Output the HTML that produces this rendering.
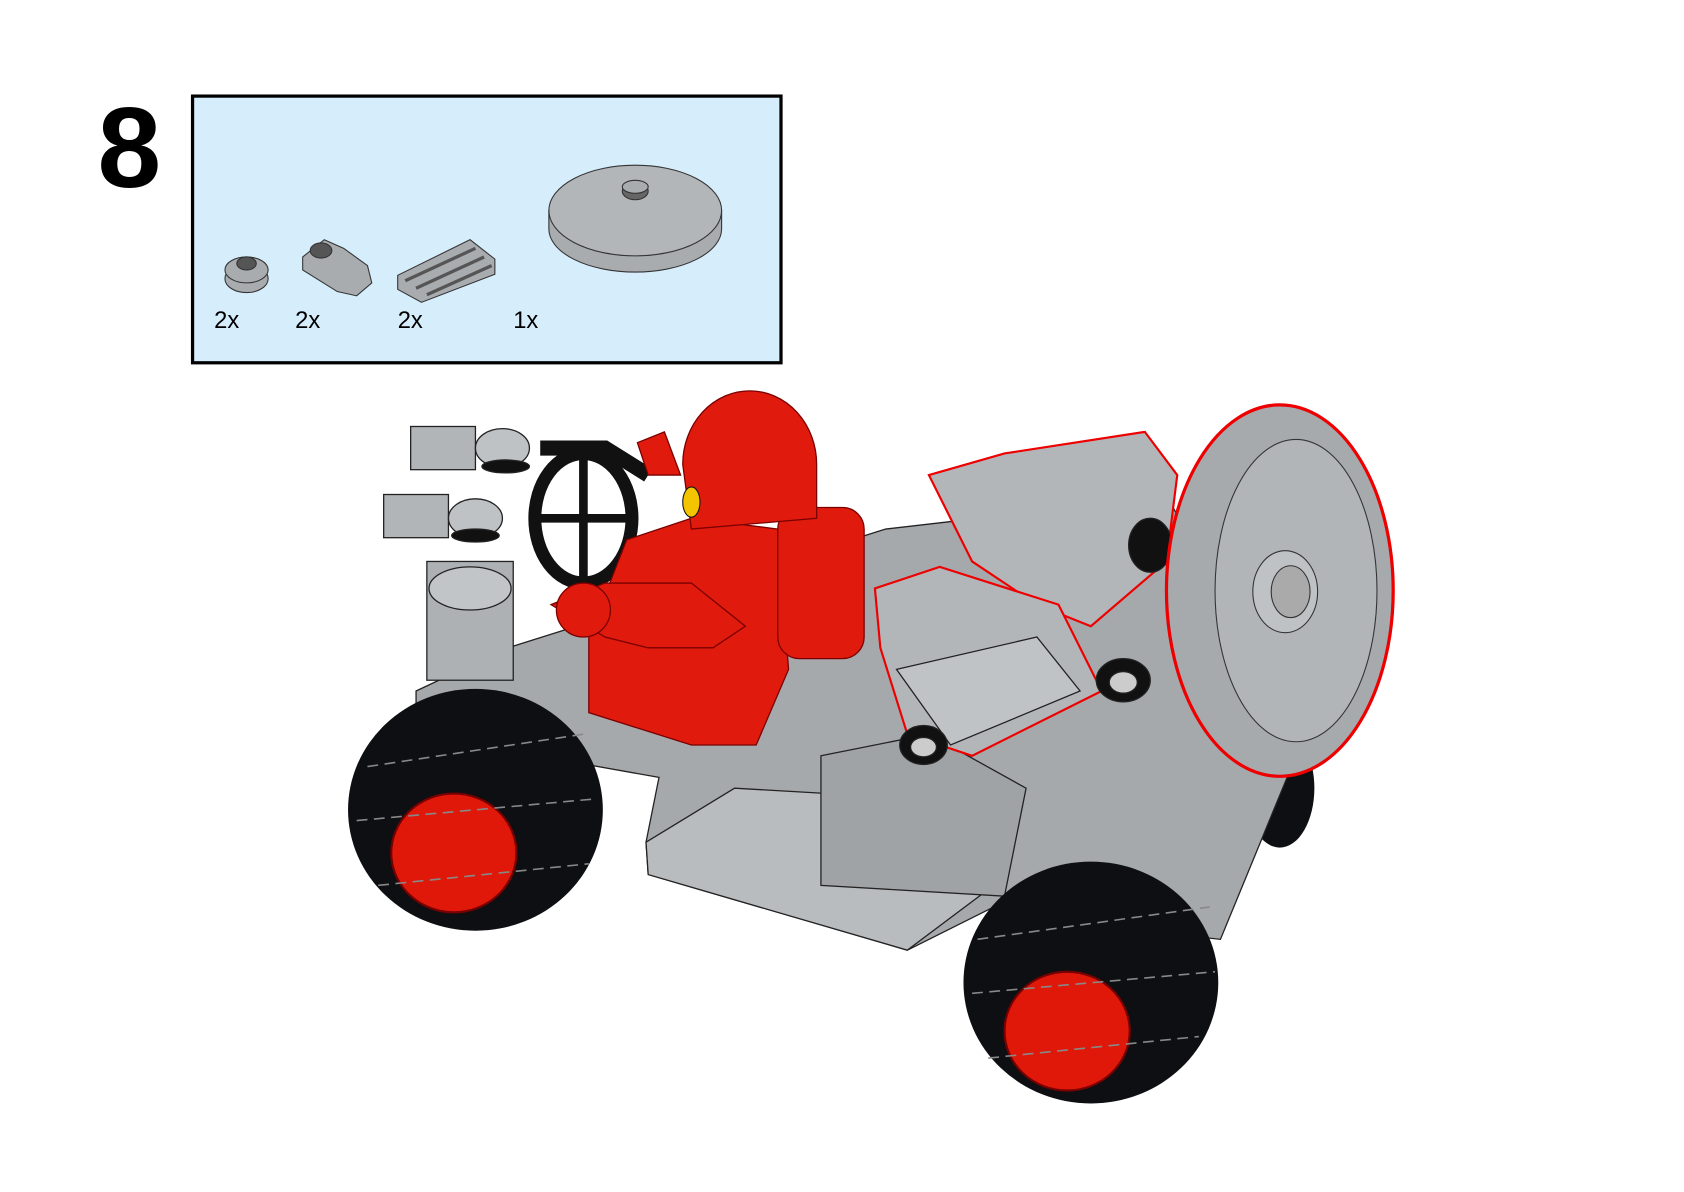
<!DOCTYPE html>
<html><head><style>html,body{margin:0;padding:0;background:#fff}svg{display:block}</style></head>
<body>
<svg width="1684" height="1192" viewBox="0 0 1559 1104" xmlns="http://www.w3.org/2000/svg" font-family="Liberation Sans, sans-serif">
<rect width="1559" height="1104" fill="#fff"/>
<text x="90" y="173" font-size="106" font-weight="bold">8</text>
<rect x="178" y="89" width="545" height="247" fill="#d6edfc" stroke="#000" stroke-width="3"/>
<g stroke="#333" stroke-width="1" fill="#a9acaf">
<ellipse cx="228" cy="258" rx="20" ry="13"/><ellipse cx="228" cy="250" rx="20" ry="12"/><ellipse cx="228" cy="244" rx="9" ry="6" fill="#555"/>
<path d="M280 238 L300 222 L318 230 L340 246 L344 262 L330 274 L312 270 L280 250Z"/><ellipse cx="297" cy="232" rx="10" ry="7" fill="#555"/>
<path d="M368 255 L435 222 L458 240 L458 254 L390 280 L368 268Z"/><path d="M375 260 L440 230 M385 267 L448 238 M395 273 L455 246" stroke="#555" stroke-width="3"/>
<path d="M508 195 L508 212 A80 40 0 0 0 668 212 L668 195Z"/><ellipse cx="588" cy="195" rx="80" ry="42" fill="#b3b6b9"/>
<ellipse cx="588" cy="177" rx="12" ry="8" fill="#666"/><ellipse cx="588" cy="173" rx="12" ry="6"/>
</g>
<g font-size="22" fill="#000"><text x="198" y="304">2x</text><text x="273" y="304">2x</text><text x="368" y="304">2x</text><text x="475" y="304">1x</text></g>
<!-- back wheel -->
<ellipse cx="1185" cy="730" rx="32" ry="55" fill="#0d0f12"/>
<!-- car body -->
<g stroke="#222" stroke-width="1.2">
<path d="M385 640 L470 600 L820 490 L1080 460 L1140 560 L1200 700 L1130 870 L1040 860 L940 830 L840 880 L600 810 L598 780 L610 720 L385 680Z" fill="#a6a9ac"/>
<path d="M598 780 L680 730 L940 745 L920 820 L840 880 L600 810Z" fill="#b9bcbf"/>
<path d="M760 700 L860 680 L950 730 L930 830 L760 820Z" fill="#a0a3a6"/>
<rect x="395" y="520" width="80" height="110" fill="#aeb1b4"/>
<ellipse cx="435" cy="545" rx="38" ry="20" fill="#c2c5c8"/>
<rect x="380" y="395" width="60" height="40" fill="#b2b5b8"/><rect x="355" y="458" width="60" height="40" fill="#b2b5b8"/>
<ellipse cx="465" cy="415" rx="25" ry="18" fill="#bfc2c5"/><ellipse cx="440" cy="480" rx="25" ry="18" fill="#bfc2c5"/>
<ellipse cx="468" cy="432" rx="22" ry="6" fill="#111"/><ellipse cx="440" cy="496" rx="22" ry="6" fill="#111"/>
<path d="M860 440 L930 420 L1060 400 L1090 440 L1080 520 L1010 580 L960 560 L900 520Z" fill="#b3b6b9" stroke="#e00" stroke-width="2"/>
<path d="M810 545 L870 525 L980 560 L1020 640 L900 700 L840 680 L815 600Z" fill="#b3b6b9" stroke="#e00" stroke-width="2"/>
<path d="M830 620 L960 590 L1000 640 L880 690Z" fill="#c0c3c6"/>
<ellipse cx="1040" cy="630" rx="25" ry="20" fill="#111"/><ellipse cx="1040" cy="632" rx="13" ry="10" fill="#ccc"/>
<ellipse cx="855" cy="690" rx="22" ry="18" fill="#111"/><ellipse cx="855" cy="692" rx="12" ry="9" fill="#ccc"/>
<ellipse cx="1065" cy="505" rx="20" ry="25" fill="#111"/>
</g>
<!-- steering wheel -->
<ellipse cx="540" cy="480" rx="45" ry="60" fill="none" stroke="#111" stroke-width="12"/>
<path d="M540 420 L540 540 M495 480 L585 480" stroke="#111" stroke-width="8"/>
<path d="M500 415 L560 415 L600 440" fill="none" stroke="#111" stroke-width="14"/>
<!-- minifig -->
<g stroke="#7a0000" stroke-width="1.2" fill="#e01b0e">
<path d="M580 500 L640 480 L720 490 L730 620 L700 690 L640 690 L545 660 L545 590Z"/>
<rect x="720" y="470" width="80" height="140" rx="20"/>
<path d="M510 560 L560 540 L640 540 L690 580 L660 600 L600 600 L560 590Z"/>
<circle cx="540" cy="565" r="25"/>
<path d="M632 430 A62 68 0 0 1 756 430 L756 480 L640 490Z"/>
<path d="M590 410 L615 400 L630 440 L600 440Z"/>
</g>
<ellipse cx="640" cy="465" rx="8" ry="14" fill="#f5c400" stroke="#111"/>
<!-- big disk -->
<ellipse cx="1185" cy="547" rx="105" ry="172" fill="#a7aaad" stroke="#e00" stroke-width="3"/>
<ellipse cx="1200" cy="547" rx="75" ry="140" fill="#b2b5b8" stroke="#333"/>
<ellipse cx="1190" cy="548" rx="30" ry="38" fill="#bfc2c5" stroke="#333"/>
<ellipse cx="1195" cy="548" rx="18" ry="24" fill="#aaa" stroke="#333"/>
<!-- wheels -->
<g>
<ellipse cx="440" cy="750" rx="118" ry="112" fill="#0d0f12"/>
<ellipse cx="420" cy="790" rx="58" ry="55" fill="#e0180a" stroke="#700" stroke-width="2"/>
<ellipse cx="1010" cy="910" rx="118" ry="112" fill="#0d0f12"/>
<ellipse cx="988" cy="955" rx="58" ry="55" fill="#e0180a" stroke="#700" stroke-width="2"/>
<path d="M340 710 L540 680 M330 760 L550 740 M350 820 L545 800 M905 870 L1120 840 M900 920 L1125 900 M915 980 L1110 960" stroke="#888" stroke-width="1.5" stroke-dasharray="10 6"/>
</g>
</svg>
</body></html>
